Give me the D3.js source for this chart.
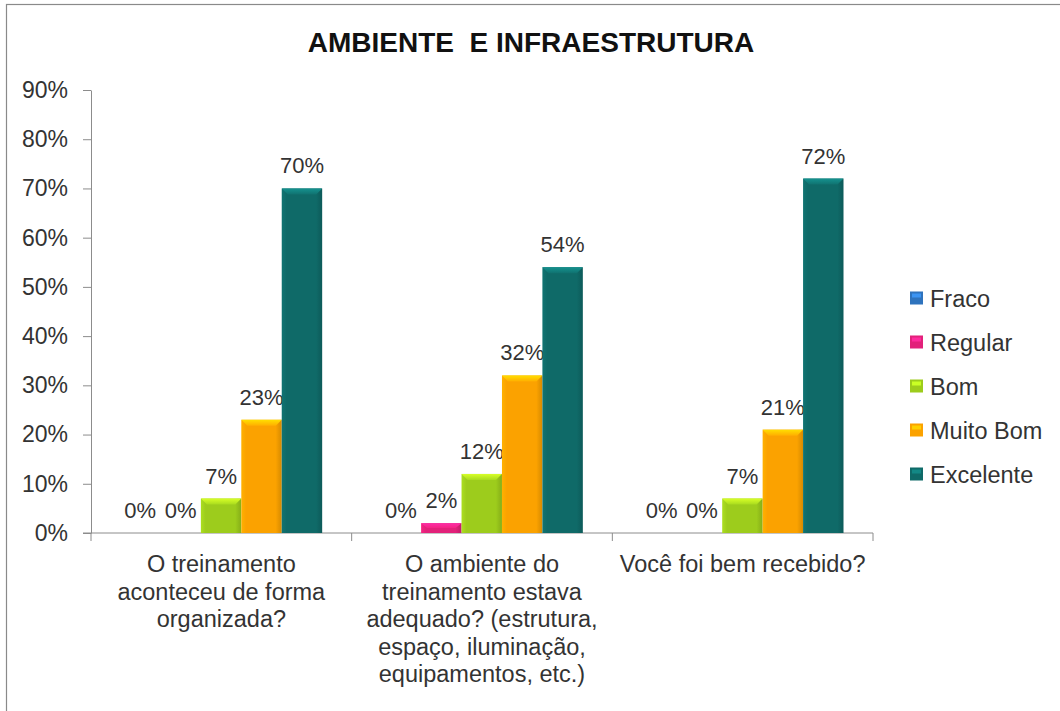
<!DOCTYPE html>
<html>
<head>
<meta charset="utf-8">
<script src="https://cdn.jsdelivr.net/npm/d3@7"></script>
<style>
  html, body { margin: 0; padding: 0; background: #fff; }
  svg { display: block; font-family: "Liberation Sans", Arial, sans-serif; }
</style>
</head>
<body>
<svg id="chart" width="1060" height="711"></svg>
<script>
// Survey results: environment and infrastructure
const categories = [
  "O treinamento aconteceu de forma organizada?",
  "O ambiente do treinamento estava adequado? (estrutura, espaço, iluminação, equipamentos, etc.)",
  "Você foi bem recebido?"
];
const categoryLines = [
  ["O treinamento", "aconteceu de forma", "organizada?"],
  ["O ambiente do", "treinamento estava", "adequado? (estrutura,", "espaço, iluminação,", "equipamentos, etc.)"],
  ["Você foi bem recebido?"]
];
const seriesNames = ["Fraco", "Regular", "Bom", "Muito Bom", "Excelente"];
const fraco     = [0.00, 0.00, 0.00];
const regular   = [0.00, 0.02, 0.00];
const bom       = [0.07, 0.12, 0.07];
const muitoBom  = [0.23, 0.32, 0.21];
const excelente = [0.70, 0.54, 0.72];
const seriesValues = [fraco, regular, bom, muitoBom, excelente];
const yTicks = [0, 0.1, 0.2, 0.3, 0.4, 0.5, 0.6, 0.7, 0.8, 0.9];

const colors = ["#2e73bd", "#e2217a", "#9dcc1c", "#fba200", "#0f6a68"];

const svg = d3.select("#chart");
const W = 1060, H = 711;

// outer frame
svg.append("rect")
  .attr("x", 6.5).attr("y", 4.5)
  .attr("width", W + 10).attr("height", H + 10)
  .attr("fill", "#fff").attr("stroke", "#8a8a8a").attr("stroke-width", 1.2);

const plot = { left: 91, right: 873, top: 90, bottom: 533 };

const x = d3.scaleBand().domain(categories).range([plot.left, plot.right]).padding(0);
const xs = d3.scaleBand().domain(seriesNames).range([29, x.bandwidth() - 29.5]).padding(0);
const y = d3.scaleLinear().domain([0, 0.9]).range([plot.bottom, plot.top]);

const textColor = "#333";
const axisColor = "#8c8c8c";

// gradients for bevelled bars
const defs = svg.append("defs");
seriesNames.forEach((s, i) => {
  const c = d3.color(colors[i]);
  const g = defs.append("linearGradient").attr("id", "side" + i)
    .attr("x1", 0).attr("x2", 1).attr("y1", 0).attr("y2", 0);
  g.append("stop").attr("offset", "0%").attr("stop-color", c.brighter(0.25));
  g.append("stop").attr("offset", "12%").attr("stop-color", c);
  g.append("stop").attr("offset", "85%").attr("stop-color", c);
  g.append("stop").attr("offset", "100%").attr("stop-color", c.darker(0.45));
  const t = defs.append("linearGradient").attr("id", "top" + i)
    .attr("x1", 0).attr("x2", 0).attr("y1", 0).attr("y2", 1);
  t.append("stop").attr("offset", "0%").attr("stop-color", c.brighter(0.9));
  t.append("stop").attr("offset", "100%").attr("stop-color", c.brighter(0.2));
});

// title
svg.append("text")
  .attr("x", 531).attr("y", 52)
  .attr("text-anchor", "middle")
  .attr("font-size", 28).attr("font-weight", "bold")
  .attr("fill", "#111")
  .style("white-space", "pre")
  .text("AMBIENTE  E INFRAESTRUTURA");

// y axis
const yAxis = d3.axisLeft(y).tickValues(yTicks).tickFormat(d3.format(".0%"))
  .tickSize(8).tickSizeOuter(0).tickPadding(15);
const gy = svg.append("g").attr("transform", `translate(${plot.left},0)`).call(yAxis);
gy.select(".domain").attr("stroke", axisColor);
gy.selectAll(".tick line").attr("stroke", axisColor);
gy.selectAll(".tick text").attr("font-size", 23).attr("fill", textColor)
  .attr("font-family", "Liberation Sans, Arial, sans-serif");

// x axis with boundary ticks
svg.append("line")
  .attr("x1", plot.left - 8).attr("x2", plot.right)
  .attr("y1", plot.bottom).attr("y2", plot.bottom)
  .attr("stroke", axisColor);
const bounds = categories.map(c => x(c)).concat([x(categories[categories.length - 1]) + x.bandwidth()]);
svg.selectAll("line.xb").data(bounds).join("line")
  .attr("class", "xb")
  .attr("x1", d => d).attr("x2", d => d)
  .attr("y1", plot.bottom).attr("y2", plot.bottom + 8)
  .attr("stroke", axisColor);

// category labels
const xl = svg.selectAll("text.cat").data(categories).join("text")
  .attr("class", "cat")
  .attr("text-anchor", "middle")
  .attr("font-size", 23.5).attr("fill", textColor)
  .attr("transform", d => `translate(${x(d) + x.bandwidth() / 2},572)`);
xl.each(function(d, i) {
  d3.select(this).selectAll("tspan").data(categoryLines[i]).join("tspan")
    .attr("x", 0).attr("dy", (l, j) => j === 0 ? 0 : 27.5).text(l => l);
});

// bars
const rows = [];
categories.forEach((c, ci) => {
  seriesNames.forEach((s, si) => rows.push({ c, s, si, v: seriesValues[si][ci] }));
});
const bw = xs.bandwidth();
const groups = svg.append("g").selectAll("g").data(rows).join("g")
  .attr("transform", d => `translate(${x(d.c) + xs(d.s)},0)`);

groups.filter(d => d.v > 0).append("rect")
  .attr("x", 0).attr("width", bw)
  .attr("y", d => y(d.v)).attr("height", d => y(0) - y(d.v))
  .attr("fill", d => `url(#side${d.si})`);

groups.filter(d => d.v > 0).append("path")
  .attr("d", d => {
    const t = y(d.v), h = Math.min(6, (y(0) - y(d.v)) / 2);
    return `M0,${t}H${bw}L${bw - 6},${t + h}H6Z`;
  })
  .attr("fill", d => `url(#top${d.si})`);

// value labels
groups.append("text")
  .attr("x", bw / 2)
  .attr("y", d => y(d.v) - 15)
  .attr("text-anchor", "middle")
  .attr("font-size", 22).attr("fill", textColor)
  .text(d => d3.format(".0%")(d.v));

// legend
const legend = svg.append("g").selectAll("g").data(seriesNames).join("g")
  .attr("transform", (d, i) => `translate(910,${298 + i * 44})`);
legend.append("rect")
  .attr("x", 0).attr("y", -6.5).attr("width", 13).attr("height", 13)
  .attr("fill", (d, i) => colors[i]);
legend.append("rect")
  .attr("x", 2).attr("y", -4.5).attr("width", 9).attr("height", 4)
  .attr("fill", (d, i) => d3.color(colors[i]).brighter(0.7));
legend.append("text")
  .attr("x", 20).attr("y", 8.5)
  .attr("font-size", 23.5).attr("fill", textColor)
  .text(d => d);
</script>
</body>
</html>
